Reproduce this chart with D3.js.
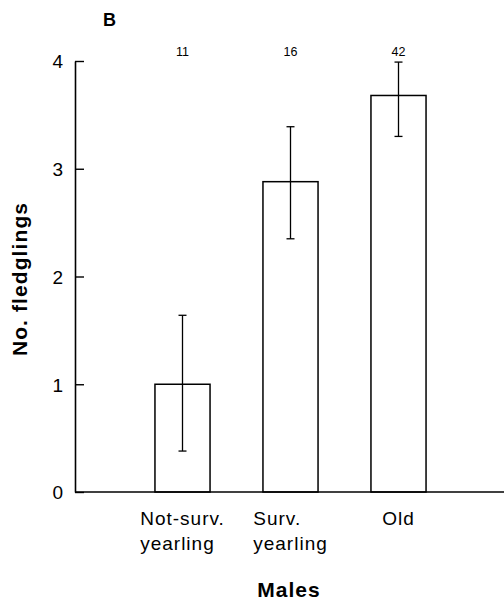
<!DOCTYPE html>
<html>
<head>
<meta charset="utf-8">
<script src="https://cdn.jsdelivr.net/npm/d3@7"></script>
<style>
    body { margin: 0; background: #fff; }
    svg { display: block; font-family: "Liberation Sans", Arial, sans-serif; }
</style>
</head>
<body>
<div id="chart-area"></div>
<script>
const categories = ["Not-surv. yearling", "Surv. yearling", "Old"];
const categoryLines = [["Not-surv.", "yearling"], ["Surv.", "yearling"], ["Old"]];
const means = [1.0, 2.88, 3.68];
const upperErr = [1.64, 3.39, 3.99];
const lowerErr = [0.38, 2.35, 3.30];
const sampleSizes = [11, 16, 42];
const yTicks = [0, 1, 2, 3, 4];

const chartSize = { width: 504, height: 604 };
const margin = { left: 75, top: 61, bottom: 112 };
const y0 = chartSize.height - margin.bottom;

const svg = d3.select("#chart-area")
    .append("svg")
    .attr("width", chartSize.width)
    .attr("height", chartSize.height);

const y = d3.scaleLinear().domain([0, 4]).range([y0, margin.top]);
const x = d3.scaleBand()
    .domain(categories)
    .range([128.5, 452.5])
    .paddingInner(0.49)
    .paddingOuter(0.245);

// panel letter
svg.append("text")
    .attr("x", 103)
    .attr("y", 26)
    .attr("font-size", 18)
    .attr("font-weight", "bold")
    .text("B");

// y axis, ticks pointing inward
const yAxis = d3.axisLeft(y)
    .tickValues(yTicks)
    .tickFormat(d3.format("d"))
    .tickSize(-9)
    .tickSizeOuter(0)
    .tickPadding(12);

const gy = svg.append("g")
    .attr("transform", `translate(${margin.left},0)`)
    .call(yAxis);
gy.select(".domain").attr("stroke-width", 1.6);
gy.selectAll(".tick line").attr("stroke-width", 1.4);
gy.selectAll(".tick text")
    .attr("font-size", 19)
    .attr("font-family", "Liberation Sans, Arial, sans-serif")
    .attr("dy", "0.36em");

// bars
const bars = categories.map((c, i) => ({ c, mean: means[i], hi: upperErr[i], lo: lowerErr[i], n: sampleSizes[i], lines: categoryLines[i] }));

svg.selectAll(".bar")
    .data(bars)
    .join("rect")
    .attr("class", "bar")
    .attr("x", d => x(d.c))
    .attr("y", d => y(d.mean))
    .attr("width", x.bandwidth())
    .attr("height", d => y(0) - y(d.mean))
    .attr("fill", "#fff")
    .attr("stroke", "#000")
    .attr("stroke-width", 1.5);

// baseline
svg.append("line")
    .attr("x1", margin.left)
    .attr("x2", chartSize.width)
    .attr("y1", y(0))
    .attr("y2", y(0))
    .attr("stroke", "#000")
    .attr("stroke-width", 1.6);

// error bars
const cx = d => x(d.c) + x.bandwidth() / 2;
const err = svg.selectAll(".err")
    .data(bars)
    .join("g")
    .attr("class", "err")
    .attr("stroke", "#000")
    .attr("stroke-width", 1.3);
err.append("line")
    .attr("x1", cx).attr("x2", cx)
    .attr("y1", d => y(d.hi)).attr("y2", d => y(d.lo));
err.append("line")
    .attr("x1", d => cx(d) - 4).attr("x2", d => cx(d) + 4)
    .attr("y1", d => y(d.hi)).attr("y2", d => y(d.hi));
err.append("line")
    .attr("x1", d => cx(d) - 4).attr("x2", d => cx(d) + 4)
    .attr("y1", d => y(d.lo)).attr("y2", d => y(d.lo));

// sample sizes
svg.selectAll(".n")
    .data(bars)
    .join("text")
    .attr("class", "n")
    .attr("x", cx)
    .attr("y", 56)
    .attr("text-anchor", "middle")
    .attr("font-size", 12.5)
    .text(d => d.n);

// category labels: lines left-aligned, block centred under bar
svg.selectAll(".cat")
    .data(bars)
    .join("text")
    .attr("class", "cat")
    .attr("font-size", 19)
    .attr("letter-spacing", 1)
    .each(function (d) {
        const t = d3.select(this);
        d.lines.forEach((l, j) => {
            t.append("tspan").attr("x", 0).attr("y", 525 + j * 25).text(l);
        });
        const w = this.getBBox().width;
        t.attr("transform", `translate(${cx(d) - w / 2},0)`);
    });

// axis titles
svg.append("text")
    .attr("x", 289)
    .attr("y", 597)
    .attr("text-anchor", "middle")
    .attr("font-size", 21)
    .attr("font-weight", "bold")
    .attr("letter-spacing", 1)
    .text("Males");

svg.append("text")
    .attr("transform", "translate(27,279) rotate(-90)")
    .attr("text-anchor", "middle")
    .attr("font-size", 21)
    .attr("font-weight", "bold")
    .attr("letter-spacing", 1.1)
    .text("No. fledglings");
</script>
</body>
</html>
